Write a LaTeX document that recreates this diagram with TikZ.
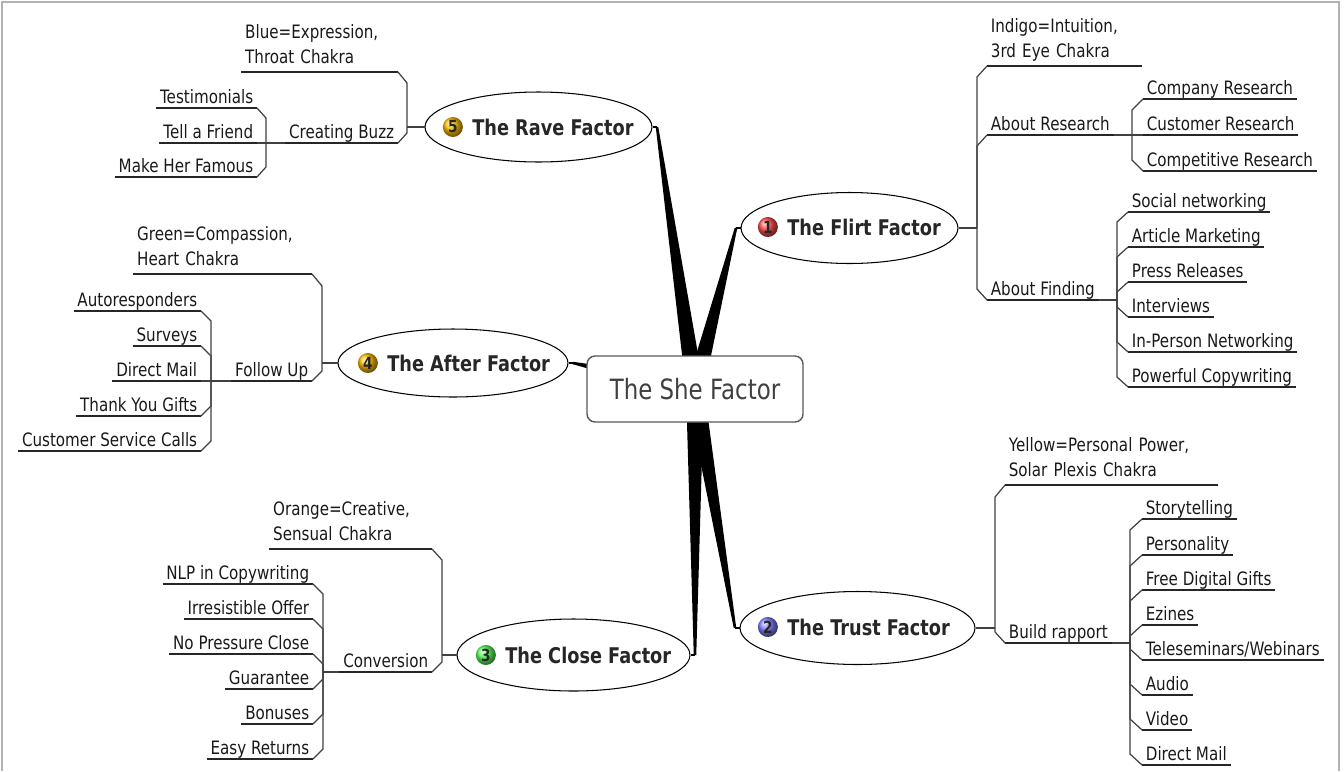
\documentclass[tikz,border=0pt]{standalone}
\usepackage{fontspec}
\setmainfont{DejaVu Sans}[FakeStretch=0.82]
\usetikzlibrary{shapes.geometric, positioning, calc, backgrounds}

\tikzset{
  base/.style={inner xsep=2pt, inner ysep=0pt, font=\fontsize{10.5}{14.7}\selectfont, text=black!90},
  leaf/.style={base, text height=8pt, text depth=2.6pt},
  note/.style={base, text width=#1, align=left, execute at end node=\strut},
  uline/.style={line width=0.9pt, black!85},
  link/.style={line width=0.7pt, black!75},
  topic/.style={ellipse, draw, line width=0.6pt, fill=white, minimum height=1.42cm, inner sep=0pt},
  title/.style={inner sep=0pt, font=\fontsize{12.3}{15}\selectfont\bfseries, text=black!85},
  ball/.style={circle, ball color=#1, inner sep=0pt, minimum size=0.4cm, font=\fontsize{9.5}{9.5}\selectfont\bfseries, text=black!85},
  hub/.style={draw=black!65, line width=0.8pt, rounded corners=0.16cm, fill=white, minimum width=4.32cm, minimum height=1.32cm, font=\fontsize{15.9}{18}\selectfont, text=black!75}
}

\newcommand{\taper}[1]{%
  \fill ($(hub.center)!0.18cm!90:(#1)$) -- ($(#1)!0.025cm!-90:(hub.center)$)
        -- ($(#1)!0.025cm!90:(hub.center)$) -- ($(hub.center)!0.18cm!-90:(#1)$) -- cycle;}

\begin{document}
\begin{tikzpicture}[x=0.02cm, y=-0.02cm]
\useasboundingbox (0,0) rectangle (1344,771);
\draw[gray!60, line width=0.8pt] (2,771) -- (2,2) -- (1339,2) -- (1339,771);

% centre
\node[hub] (hub) at (695,389) {The She Factor};

% main topics
\node[topic, minimum width=4.34cm] (flirt) at (849.5,228) {};
\node[title, anchor=west] (flirtt) at (787,227) {The Flirt Factor};
\node[ball=red!70!white, left=5pt of flirtt] (flirtb) {1};

\node[topic, minimum width=4.7cm, minimum height=1.46cm] (trust) at (857.5,628) {};
\node[title, anchor=west] (trustt) at (787,627) {The Trust Factor};
\node[ball=blue!50!white, left=5pt of trustt] (trustb) {2};

\node[topic, minimum width=4.66cm, minimum height=1.44cm] (close) at (573.5,655) {};
\node[title, anchor=west] (closet) at (505,655) {The Close Factor};
\node[ball=green!65!white, left=5pt of closet] (closeb) {3};

\node[topic, minimum width=4.6cm, minimum height=1.36cm] (after) at (453,363) {};
\node[title, anchor=west] (aftert) at (387,363) {The After Factor};
\node[ball=orange!50!yellow, left=5pt of aftert] (afterb) {4};

\node[topic, minimum width=4.54cm, minimum height=1.4cm] (rave) at (538.5,127) {};
\node[title, anchor=west] (ravet) at (472,127) {The Rave Factor};
\node[ball=orange!50!yellow, left=5pt of ravet] (raveb) {5};

% 1 flirt
\node[note=2.94cm, anchor=south west] (ind) at (987,66) {Indigo=Intuition,\\3rd Eye Chakra};
\node[leaf, anchor=south west] (ar) at (987,135) {About Research};
\node[leaf, anchor=south west] (af) at (987,300) {About Finding};
\node[leaf, anchor=south west] (cr1) at (1143,99) {Company Research};
\node[leaf, anchor=south west] (cr2) at (1143,135) {Customer Research};
\node[leaf, anchor=south west] (cr3) at (1143,171) {Competitive Research};
\node[leaf, anchor=south west] (fd1) at (1128,212) {Social networking};
\node[leaf, anchor=south west] (fd2) at (1128,247) {Article Marketing};
\node[leaf, anchor=south west] (fd3) at (1128,282) {Press Releases};
\node[leaf, anchor=south west] (fd4) at (1128,317) {Interviews};
\node[leaf, anchor=south west] (fd5) at (1128,352) {In-Person Networking};
\node[leaf, anchor=south west] (fd6) at (1128,387) {Powerful Copywriting};

% 2 trust
\node[note=4.1cm, anchor=south west] (yel) at (1005,485) {Yellow=Personal Power,\\Solar Plexis Chakra};
\node[leaf, anchor=south west] (br) at (1005,643) {Build rapport};
\node[leaf, anchor=south west] (bd1) at (1142,519) {Storytelling};
\node[leaf, anchor=south west] (bd2) at (1142,555) {Personality};
\node[leaf, anchor=south west] (bd3) at (1142,590) {Free Digital Gifts};
\node[leaf, anchor=south west] (bd4) at (1142,625) {Ezines};
\node[leaf, anchor=south west] (bd5) at (1142,660) {Teleseminars/Webinars};
\node[leaf, anchor=south west] (bd6) at (1142,695) {Audio};
\node[leaf, anchor=south west] (bd7) at (1142,730) {Video};
\node[leaf, anchor=south west] (bd8) at (1142,765) {Direct Mail};

% 3 close
\node[note=3.1cm, anchor=south east] (org) at (432,549) {Orange=Creative,\\Sensual Chakra};
\node[leaf, anchor=south east] (cv) at (432,672) {Conversion};
\node[leaf, anchor=south east] (cl1) at (313,584) {NLP in Copywriting};
\node[leaf, anchor=south east] (cl2) at (313,619) {Irresistible Offer};
\node[leaf, anchor=south east] (cl3) at (313,654) {No Pressure Close};
\node[leaf, anchor=south east] (cl4) at (313,689) {Guarantee};
\node[leaf, anchor=south east] (cl5) at (313,724) {Bonuses};
\node[leaf, anchor=south east] (cl6) at (313,759) {Easy Returns};

% 4 after
\node[note=3.42cm, anchor=south east] (grn) at (312,274) {Green=Compassion,\\Heart Chakra};
\node[leaf, anchor=south east] (fu) at (312,381) {Follow Up};
\node[leaf, anchor=south east] (ft1) at (201,311) {Autoresponders};
\node[leaf, anchor=south east] (ft2) at (201,346) {Surveys};
\node[leaf, anchor=south east] (ft3) at (201,381) {Direct Mail};
\node[leaf, anchor=south east] (ft4) at (201,416) {Thank You Gifts};
\node[leaf, anchor=south east] (ft5) at (201,451) {Customer Service Calls};

% 5 rave
\node[note=2.98cm, anchor=south east] (blue) at (398,72) {Blue=Expression,\\Throat Chakra};
\node[leaf, anchor=south east] (cb) at (398,143) {Creating Buzz};
\node[leaf, anchor=south east] (rz1) at (257,108) {Testimonials};
\node[leaf, anchor=south east] (rz2) at (257,143) {Tell a Friend};
\node[leaf, anchor=south east] (rz3) at (257,177) {Make Her Famous};

% underlines
\foreach \n in {ind, ar, af, cr1, cr2, cr3, fd1, fd2, fd3, fd4, fd5, fd6,
  yel, br, bd1, bd2, bd3, bd4, bd5, bd6, bd7, bd8,
  org, cv, cl1, cl2, cl3, cl4, cl5, cl6,
  grn, fu, ft1, ft2, ft3, ft4, ft5,
  blue, cb, rz1, rz2, rz3}
  \draw[uline] (\n.south west) -- (\n.south east);

% joints
\coordinate (j1) at (977,228);
\coordinate (j11) at (1132,135);
\coordinate (j12) at (1117,300);
\coordinate (j2) at (995,628);
\coordinate (j21) at (1130,643);
\coordinate (j3) at (442,655);
\coordinate (j31) at (323,672);
\coordinate (j4) at (322,363);
\coordinate (j41) at (211,381);
\coordinate (j5) at (407,127);
\coordinate (j51) at (266,143);

% right side
\draw[link, line width=1pt] (flirt.east) -- (j1);
\draw[link] (ind.south west) -- ++(-10,11) -- (j1);
\draw[link] (ar.south west) -- ++(-10,11) -- (j1);
\draw[link] (af.south west) -- ++(-10,-11) -- (j1);
\draw[link] (ar.south east) -- (j11);
\foreach \n/\d in {cr1/11, cr2/0, cr3/-11}
  \draw[link] (\n.south west) -- ++(-11,\d) -- (j11);
\draw[link] (af.south east) -- (j12);
\foreach \n/\d in {fd1/10, fd2/10, fd3/10, fd4/-10, fd5/-10, fd6/-10}
  \draw[link] (\n.south west) -- ++(-11,\d) -- (j12);

\draw[link, line width=1pt] (trust.east) -- (j2);
\draw[link] (yel.south west) -- ++(-10,12) -- (j2);
\draw[link] (br.south west) -- ++(-10,-11) -- (j2);
\draw[link] (br.south east) -- (j21);
\foreach \n/\d in {bd1/11, bd2/11, bd3/11, bd4/11, bd5/-11, bd6/-11, bd7/-11, bd8/-11}
  \draw[link] (\n.south west) -- ++(-12,\d) -- (j21);

% left side
\draw[link, line width=1pt] (close.west) -- (j3);
\draw[link] (org.south east) -- ++(10,11) -- (j3);
\draw[link] (cv.south east) -- ++(10,-10) -- (j3);
\draw[link] (cv.south west) -- (j31);
\foreach \n/\d in {cl1/10, cl2/10, cl3/10, cl4/-10, cl5/-10, cl6/-10}
  \draw[link] (\n.south east) -- ++(10,\d) -- (j31);

\draw[link, line width=1pt] (after.west) -- (j4);
\draw[link] (grn.south east) -- ++(10,12) -- (j4);
\draw[link] (fu.south east) -- ++(10,-10) -- (j4);
\draw[link] (fu.south west) -- (j41);
\foreach \n/\d in {ft1/10, ft2/10, ft3/0, ft4/-10, ft5/-10}
  \draw[link] (\n.south east) -- ++(10,\d) -- (j41);

\draw[link, line width=1pt] (rave.west) -- (j5);
\draw[link] (blue.south east) -- ++(9,11) -- (j5);
\draw[link] (cb.south east) -- ++(9,-10) -- (j5);
\draw[link] (cb.south west) -- (j51);
\foreach \n/\d in {rz1/10, rz2/0, rz3/-10}
  \draw[link] (\n.south east) -- ++(9,\d) -- (j51);

% tapered branches to the centre
\coordinate (ftip) at (736,228);
\coordinate (ttip) at (735,628);
\coordinate (ctip) at (695,655);
\coordinate (atip) at (573,363);
\coordinate (rtip) at (657,127);
\draw[line width=1pt] (flirt.west) -- (ftip);
\draw[line width=1pt] (trust.west) -- (ttip);
\draw[line width=1pt] (close.east) -- (ctip);
\draw[line width=1pt] (after.east) -- (atip);
\draw[line width=1pt] (rave.east) -- (rtip);
\begin{pgfonlayer}{background}
  \foreach \t in {ftip, ttip, ctip, atip, rtip} {
    \taper{\t}
  }
\end{pgfonlayer}
\end{tikzpicture}
\end{document}
